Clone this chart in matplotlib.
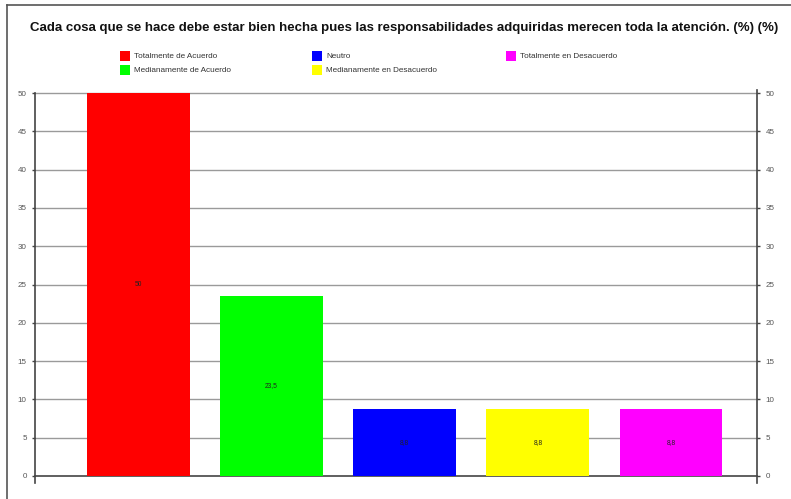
import matplotlib
matplotlib.use("Agg")
import matplotlib.pyplot as plt
from matplotlib.lines import Line2D
from matplotlib.patches import Rectangle

plt.rcParams["font.family"] = ["Liberation Sans", "DejaVu Sans"]

TITLE = ("Cada cosa que se hace debe estar bien hecha pues las responsabilidades "
         "adquiridas merecen toda la atención. (%) (%)")
categories = [
    "Totalmente de Acuerdo",
    "Medianamente de Acuerdo",
    "Neutro",
    "Medianamente en Desacuerdo",
    "Totalmente en Desacuerdo",
]
values = [50.0, 23.5, 8.8, 8.8, 8.8]
value_labels = ["50", "23,5", "8,8", "8,8", "8,8"]
colors = ["#ff0000", "#00ff00", "#0000ff", "#ffff00", "#ff00ff"]
yticks = [0, 5, 10, 15, 20, 25, 30, 35, 40, 45, 50]

W, H = 791, 499
fig = plt.figure(figsize=(W / 100, H / 100), dpi=100)

# frame of the embedded picture
fig.add_artist(Line2D([7 / W, 7 / W], [0, 1 - 5 / H], color="#555555", lw=1.2))
fig.add_artist(Line2D([7 / W, 1], [1 - 5 / H, 1 - 5 / H], color="#555555", lw=1.2))

ax = fig.add_axes([35 / W, (H - 476) / H, (757 - 35) / W, (476 - 93) / H])
ax.set_ylim(0, 50)
ax.set_xlim(-0.777, 4.646)

for y in yticks:
    ax.axhline(y, color="#444444" if y == 0 else "#9a9a9a",
               lw=1.2 if y == 0 else 1.0, zorder=1, clip_on=False)

x = list(range(len(categories)))
ax.bar(x, values, width=0.773, color=colors, edgecolor="none", zorder=2)
for xi, v, lbl in zip(x, values, value_labels):
    ax.text(xi, v / 2, lbl, ha="center", va="center", fontsize=4.8,
            color="#222222", zorder=3)

for side in ("top", "bottom"):
    ax.spines[side].set_visible(False)
for side in ("left", "right"):
    ax.spines[side].set_color("#444444")
    ax.spines[side].set_linewidth(1.2)
ax.spines["left"].set_bounds(-0.9, 50.0)
ax.spines["right"].set_bounds(-0.9, 50.4)

ax.set_xticks([])
ax.set_yticks(yticks)
ax.set_yticklabels([str(t) for t in yticks])
ax.tick_params(axis="y", which="both", left=True, right=True,
               labelleft=True, labelright=True, length=2, width=1,
               color="#444444", labelsize=5.8, labelcolor="#555555", pad=4)

fig.text(404 / W, 1 - 27.5 / H, TITLE, ha="center", va="center",
         fontsize=9.5, fontweight="bold", color="#111111")

# legend: three columns, two rows
legend_pos = [(120, 51), (120, 65), (312, 51), (312, 65), (506, 51)]
for (lx, ly), name, col in zip(legend_pos, categories, colors):
    fig.add_artist(Rectangle((lx / W, 1 - (ly + 10) / H), 10 / W, 10 / H,
                             transform=fig.transFigure, facecolor=col,
                             edgecolor="none"))
    fig.text((lx + 14) / W, 1 - (ly + 5) / H, name, ha="left", va="center",
             fontsize=5.9, color="#333333")

fig.savefig("out.png", dpi=100)
